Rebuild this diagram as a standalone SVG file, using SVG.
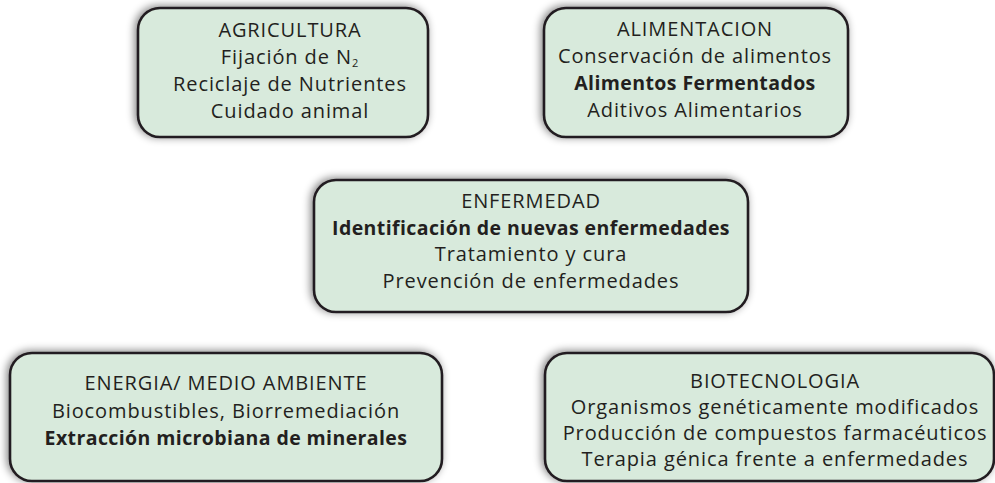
<svg xmlns="http://www.w3.org/2000/svg" width="995" height="483" viewBox="0 0 995 483">
<defs>
<filter id="sh" x="-10%" y="-20%" width="120%" height="140%">
<feGaussianBlur in="SourceAlpha" stdDeviation="4"/>
<feOffset dx="-2" dy="-1" result="b"/>
<feComponentTransfer><feFuncA type="linear" slope="0.5"/></feComponentTransfer>
<feMerge><feMergeNode/><feMergeNode in="SourceGraphic"/></feMerge>
</filter>
</defs>
<style>
.box{fill:#d8eadc;stroke:#231f20;stroke-width:2.6;filter:url(#sh)}
text{font-family:"Open Sans","Noto Sans",sans-serif;font-size:20px;letter-spacing:0.9px;fill:#231f20;text-anchor:middle}
.b{font-weight:bold;font-size:19.5px;letter-spacing:0.4px}
</style>
<rect width="995" height="483" fill="#ffffff"/>
<g id="connectors"></g>
<g id="agricultura">
<rect class="box" x="138" y="8" width="290" height="129" rx="22"/>
<text x="290" y="37">AGRICULTURA</text>
<text x="290" y="64">Fijación de N<tspan font-size="11" dy="3">2</tspan></text>
<text x="290" y="91">Reciclaje de Nutrientes</text>
<text x="290" y="118">Cuidado animal</text>
</g>
<g id="alimentacion">
<rect class="box" x="544" y="8" width="304" height="129" rx="22"/>
<text x="695" y="36">ALIMENTACION</text>
<text x="695" y="63">Conservación de alimentos</text>
<text x="695" y="90" class="b">Alimentos Fermentados</text>
<text x="695" y="117">Aditivos Alimentarios</text>
</g>
<g id="enfermedad">
<rect class="box" x="314" y="180" width="434" height="132" rx="22"/>
<text x="531" y="208">ENFERMEDAD</text>
<text x="531" y="235" class="b">Identificación de nuevas enfermedades</text>
<text x="531" y="261">Tratamiento y cura</text>
<text x="531" y="288">Prevención de enfermedades</text>
</g>
<g id="energia">
<rect class="box" x="10" y="353" width="432" height="128" rx="22"/>
<text x="226" y="390">ENERGIA/ MEDIO AMBIENTE</text>
<text x="226" y="418">Biocombustibles, Biorremediación</text>
<text x="226" y="445" class="b">Extracción microbiana de minerales</text>
</g>
<g id="biotecnologia">
<rect class="box" x="545" y="353" width="449" height="128" rx="22"/>
<text x="775" y="388">BIOTECNOLOGIA</text>
<text x="775" y="414">Organismos genéticamente modificados</text>
<text x="775" y="440">Producción de compuestos farmacéuticos</text>
<text x="775" y="466">Terapia génica frente a enfermedades</text>
</g>
</svg>
